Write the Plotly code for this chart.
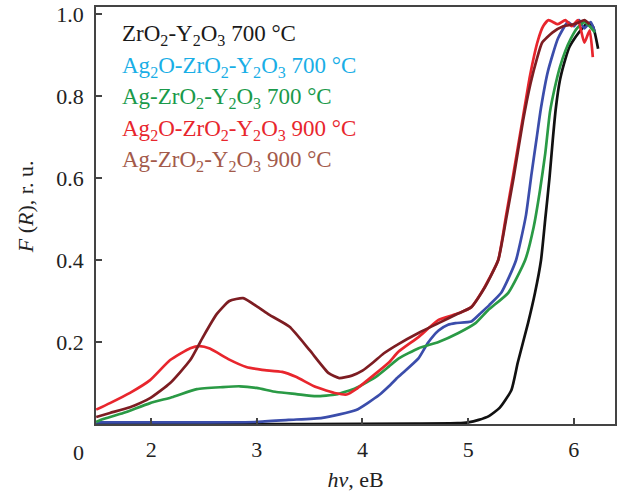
import plotly.graph_objects as go

# ---- data ----
black_x = [1.48, 2.5, 3.5, 4.5, 4.9, 5.0, 5.1, 5.2, 5.3, 5.41, 5.47, 5.567, 5.633, 5.69, 5.73, 5.77, 5.80, 5.83, 5.87, 5.92, 5.96, 6.02, 6.08, 6.13, 6.18, 6.23]
black_y = [0.0, 0.0, 0.0, 0.001, 0.002, 0.004, 0.01, 0.02, 0.04, 0.083, 0.15, 0.246, 0.32, 0.40, 0.50, 0.60, 0.69, 0.77, 0.84, 0.89, 0.92, 0.945, 0.965, 0.978, 0.97, 0.915]

blue_x = [1.48, 2.0, 2.5, 3.0, 3.3, 3.62, 3.94, 4.155, 4.25, 4.34, 4.53, 4.62, 4.72, 4.81, 4.88, 5.03, 5.125, 5.2, 5.313, 5.39, 5.454, 5.50, 5.548, 5.60, 5.65, 5.689, 5.755, 5.85, 5.944, 6.0, 6.05, 6.1, 6.16, 6.2]
blue_y = [0.004, 0.004, 0.004, 0.005, 0.01, 0.015, 0.034, 0.07, 0.092, 0.115, 0.16, 0.198, 0.228, 0.242, 0.246, 0.25, 0.272, 0.29, 0.32, 0.36, 0.40, 0.45, 0.51, 0.61, 0.70, 0.77, 0.86, 0.94, 0.98, 0.97, 0.985, 0.965, 0.98, 0.955]

green_x = [1.48, 1.52, 1.736, 1.99, 2.207, 2.433, 2.678, 2.838, 2.998, 3.186, 3.374, 3.562, 3.75, 3.939, 4.127, 4.249, 4.344, 4.532, 4.72, 4.908, 5.07, 5.19, 5.38, 5.54, 5.62, 5.68, 5.73, 5.774, 5.82, 5.868, 5.92, 5.972, 6.03, 6.1, 6.15, 6.2]
green_y = [0.005, 0.01, 0.027, 0.051, 0.066, 0.085, 0.09, 0.092, 0.088, 0.078, 0.073, 0.068, 0.072, 0.088, 0.115, 0.14, 0.16, 0.185, 0.2, 0.222, 0.246, 0.278, 0.32, 0.40, 0.48, 0.57, 0.66, 0.76, 0.82, 0.87, 0.91, 0.94, 0.965, 0.98, 0.97, 0.955]

red_x = [1.48, 1.61, 1.80, 1.99, 2.18, 2.37, 2.46, 2.555, 2.74, 2.90, 3.05, 3.24, 3.37, 3.56, 3.75, 3.85, 3.94, 4.13, 4.25, 4.34, 4.53, 4.72, 4.91, 5.03, 5.125, 5.2, 5.285, 5.36, 5.426, 5.52, 5.586, 5.66, 5.71, 5.76, 5.85, 5.92, 5.98, 6.04, 6.1, 6.15, 6.18]
red_y = [0.035, 0.051, 0.076, 0.107, 0.156, 0.185, 0.19, 0.184, 0.157, 0.139, 0.132, 0.127, 0.115, 0.09, 0.075, 0.072, 0.085, 0.124, 0.15, 0.176, 0.212, 0.254, 0.27, 0.285, 0.32, 0.355, 0.40, 0.51, 0.607, 0.75, 0.85, 0.935, 0.97, 0.985, 0.975, 0.985, 0.97, 0.985, 0.93, 0.96, 0.895]

brown_x = [1.48, 1.61, 1.80, 1.99, 2.18, 2.37, 2.49, 2.62, 2.74, 2.87, 3.0, 3.12, 3.31, 3.50, 3.68, 3.78, 3.90, 4.0, 4.1, 4.2, 4.34, 4.53, 4.72, 4.91, 5.03, 5.16, 5.285, 5.36, 5.43, 5.52, 5.59, 5.65, 5.7, 5.8, 5.9, 6.0, 6.05, 6.1, 6.15]
brown_y = [0.017, 0.027, 0.041, 0.063, 0.10, 0.156, 0.212, 0.268, 0.300, 0.307, 0.287, 0.266, 0.237, 0.18, 0.124, 0.112, 0.118, 0.13, 0.15, 0.172, 0.195, 0.222, 0.246, 0.27, 0.285, 0.334, 0.40, 0.50, 0.60, 0.74, 0.83, 0.89, 0.93, 0.955, 0.97, 0.975, 0.98, 0.985, 0.975]

series_names = [
    "ZrO<sub>2</sub>-Y<sub>2</sub>O<sub>3</sub> 700 °C",
    "Ag<sub>2</sub>O-ZrO<sub>2</sub>-Y<sub>2</sub>O<sub>3</sub> 700 °C",
    "Ag-ZrO<sub>2</sub>-Y<sub>2</sub>O<sub>3</sub> 700 °C",
    "Ag<sub>2</sub>O-ZrO<sub>2</sub>-Y<sub>2</sub>O<sub>3</sub> 900 °C",
    "Ag-ZrO<sub>2</sub>-Y<sub>2</sub>O<sub>3</sub> 900 °C",
]
x_ticks = [2, 3, 4, 5, 6]
y_ticks = [0.2, 0.4, 0.6, 0.8, 1.0]
y_tick_labels = ["0.2", "0.4", "0.6", "0.8", "1.0"]

line_colors = ["#111111", "#3b4dab", "#2a9a45", "#e8262d", "#7d1d22"]
label_colors = ["#1a1a1a", "#19aee6", "#1a9a4a", "#e8262d", "#a35a4a"]

FONT = "Liberation Serif"

fig = go.Figure()
all_x = [black_x, blue_x, green_x, red_x, brown_x]
all_y = [black_y, blue_y, green_y, red_y, brown_y]
for xs, ys, c, n in zip(all_x, all_y, line_colors, series_names):
    fig.add_trace(go.Scatter(x=xs, y=ys, mode="lines", name=n,
                             line=dict(color=c, width=2.7, shape="spline", smoothing=0.5),
                             showlegend=False))

# legend as coloured text
for i, (n, c) in enumerate(zip(series_names, label_colors)):
    fig.add_annotation(xref="paper", yref="paper", x=(120 - 96) / 521, y=(424 - 35 - i * 31.5) / 417,
                       xanchor="left", yanchor="middle", text=n, showarrow=False,
                       font=dict(family=FONT, size=23, color=c))

# origin "0" label
fig.add_annotation(xref="paper", yref="paper", x=(78 - 96) / 521, y=(424 - 452) / 417,
                   xanchor="center", yanchor="middle", text="0", showarrow=False,
                   font=dict(family=FONT, size=22, color="#222222"))

# y-axis title
fig.add_annotation(xref="paper", yref="paper", x=(25 - 96) / 521, y=(424 - 207) / 417,
                   xanchor="center", yanchor="middle", textangle=-90,
                   text="<i>F</i> (<i>R</i>), r. u.", showarrow=False,
                   font=dict(family=FONT, size=22, color="#222222"))

fig.update_layout(
    width=619, height=492,
    margin=dict(l=96, r=2, t=7, b=68),
    paper_bgcolor="white", plot_bgcolor="white",
    font=dict(family=FONT, size=22, color="#222222"),
    xaxis=dict(range=[1.478, 6.39], tickvals=x_ticks, ticks="inside", ticklen=6, tickwidth=1.5,
               tickcolor="#444444", showline=True, linecolor="#444444", linewidth=1.5, mirror=True,
               showgrid=False, zeroline=False, ticklabelstandoff=5,
               title=dict(text="<i>hv</i>, eB", font=dict(family=FONT, size=22), standoff=10)),
    yaxis=dict(range=[0, 1.017], tickvals=y_ticks, ticktext=y_tick_labels, ticks="inside", ticklen=6,
               tickwidth=1.5, tickcolor="#444444", showline=True, linecolor="#444444", linewidth=1.5,
               mirror=True, showgrid=False, zeroline=False, ticklabelstandoff=6),
)

fig.write_html("out.html", config={"displayModeBar": False},
               post_script="document.body.style.margin='0';document.body.style.overflow='hidden';")
